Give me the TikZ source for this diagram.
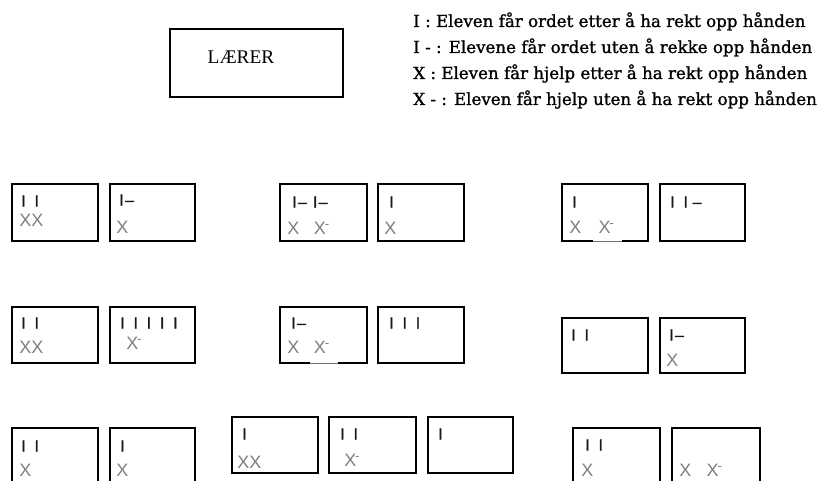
\documentclass[tikz,border=0pt]{standalone}
\usepackage{fontspec}
\setmainfont{DejaVu Serif}[FakeBold=1.2]
\newfontfamily\laererfont{Liberation Serif}
\newfontfamily\markfont{Liberation Sans}
\newfontfamily\tallyfont{Liberation Sans}[FakeBold=1.6]
\newcommand\tgap{\hspace{6.6pt}}
\newcommand\xm{X\kern-0.8pt\raisebox{4pt}{\fontsize{10}{10}\selectfont -}}
\newcommand\desk[5]{\node[desk, minimum width={(#4-#2)*0.75pt}, minimum height={(#5-#3)*0.75pt}] (#1) at ({(#2+#4)/2},{(#3+#5)/2}) {};}
\begin{document}
\begin{tikzpicture}[x=0.75pt,y=-0.75pt]
\tikzset{
  desk/.style={draw=black, line width=1.6pt, rectangle, inner sep=0pt, outer sep=0pt},
  tally/.style={anchor=west, inner sep=0pt, text=black!90, font=\tallyfont\fontsize{12}{12}\selectfont},
  cross/.style={anchor=west, inner sep=0pt, text=black!50, font=\markfont\fontsize{13.5}{13.5}\selectfont},
  legend/.style={anchor=base west, inner sep=0pt, font=\fontsize{12.5}{15}\selectfont},
  gapwhite/.style={draw=white, line width=2.6pt},
  gapline/.style={draw=black!55, line width=0.6pt}
}
\clip (0,0) rectangle (820,481);
\fill[white] (0,0) rectangle (820,481);

% teacher
\desk{teacher}{170}{29}{343}{97}
\node[inner sep=0pt, font=\laererfont\fontsize{14.5}{15}\selectfont] (laerer) at (241,57) {LÆRER};

% legend
\node[legend] (leg1) at (413,27) {I : Eleven får ordet etter å ha rekt opp hånden};
\node[legend] (leg2) at (413,53) {I - : Elevene får ordet uten å rekke opp hånden};
\node[legend] (leg3) at (413,79) {X : Eleven får hjelp etter å ha rekt opp hånden};
\node[legend] (leg4) at (413,105) {X - : Eleven får hjelp uten å ha rekt opp hånden};

% desks
\desk{A}{12}{184}{98}{241}
\desk{B}{110}{184}{195}{241}
\desk{C}{280}{184}{367}{241}
\desk{D}{378}{184}{464}{241}
\desk{E}{562}{184}{648}{241}
\desk{F}{660}{184}{745}{241}
\desk{G}{12}{307}{98}{363}
\desk{H}{110}{307}{195}{363}
\desk{I}{280}{307}{367}{363}
\desk{J}{378}{307}{464}{363}
\desk{K}{562}{318}{648}{373}
\desk{L}{660}{318}{745}{373}
\desk{M}{12}{428}{98}{495}
\desk{N}{110}{428}{195}{495}
\desk{O}{232}{417}{318}{473}
\desk{P}{329}{417}{416}{473}
\desk{Q}{428}{417}{513}{473}
\desk{R}{573}{428}{660}{495}
\desk{S}{672}{428}{760}{495}

% thin bottom segments
\path (E.south west) ++(31,0) coordinate (e1) ++(29,0) coordinate (e2);
\draw[gapwhite] (e1) -- (e2);
\draw[gapline] (e1) -- (e2);
\path (I.south west) ++(30,0) coordinate (i1) ++(28,0) coordinate (i2);
\draw[gapwhite] (i1) -- (i2);
\draw[gapline] (i1) -- (i2);

% marks
\node[tally] (A1) at (21,201) {I\tgap I};
\node[cross] (A2) at (19,220) {XX};
\node[tally] (B1) at (119,200) {I\kern1pt–};
\node[cross] (B2) at (116,227) {X};
\node[tally] (C1) at (292,202) {I\kern1pt–\hspace{4.5pt}I\kern1pt–};
\node[cross] (C2) at (287,228) {X\hspace{11pt}\xm};
\node[tally] (D1) at (389,202) {I};
\node[cross] (D2) at (384,228) {X};
\node[tally] (E1) at (572,202) {I};
\node[cross] (E2) at (569,227) {X\hspace{13pt}\xm};
\node[tally] (F1) at (670,202) {I\tgap I\hspace{3.5pt}–};
\node[tally] (G1) at (21,323) {I\tgap I};
\node[cross] (G2) at (19,347) {XX};
\node[tally] (H1) at (120,323) {I\tgap I\tgap I\tgap I\tgap I};
\node[cross] (H2) at (126,343) {\xm};
\node[tally] (I1) at (291,323) {I\kern1pt–};
\node[cross] (I2) at (287,347) {X\hspace{11pt}\xm};
\node[tally] (J1) at (389,323) {I\tgap I\tgap I};
\node[tally] (K1) at (571,335) {I\tgap I};
\node[tally] (L1) at (669,335) {I\kern1pt–};
\node[cross] (L2) at (666,360) {X};
\node[tally] (M1) at (21,446) {I\tgap I};
\node[cross] (M2) at (19,470) {X};
\node[tally] (N1) at (120,446) {I};
\node[cross] (N2) at (116,470) {X};
\node[tally] (O1) at (242,434) {I};
\node[cross] (O2) at (237,462) {XX};
\node[tally] (P1) at (340,434) {I\tgap I};
\node[cross] (P2) at (344,460) {\xm};
\node[tally] (Q1) at (438,434) {I};
\node[tally] (R1) at (585,445) {I\tgap I};
\node[cross] (R2) at (581,470) {X};
\node[cross] (S2) at (679,470) {X\hspace{11.5pt}\xm};
\end{tikzpicture}
\end{document}
